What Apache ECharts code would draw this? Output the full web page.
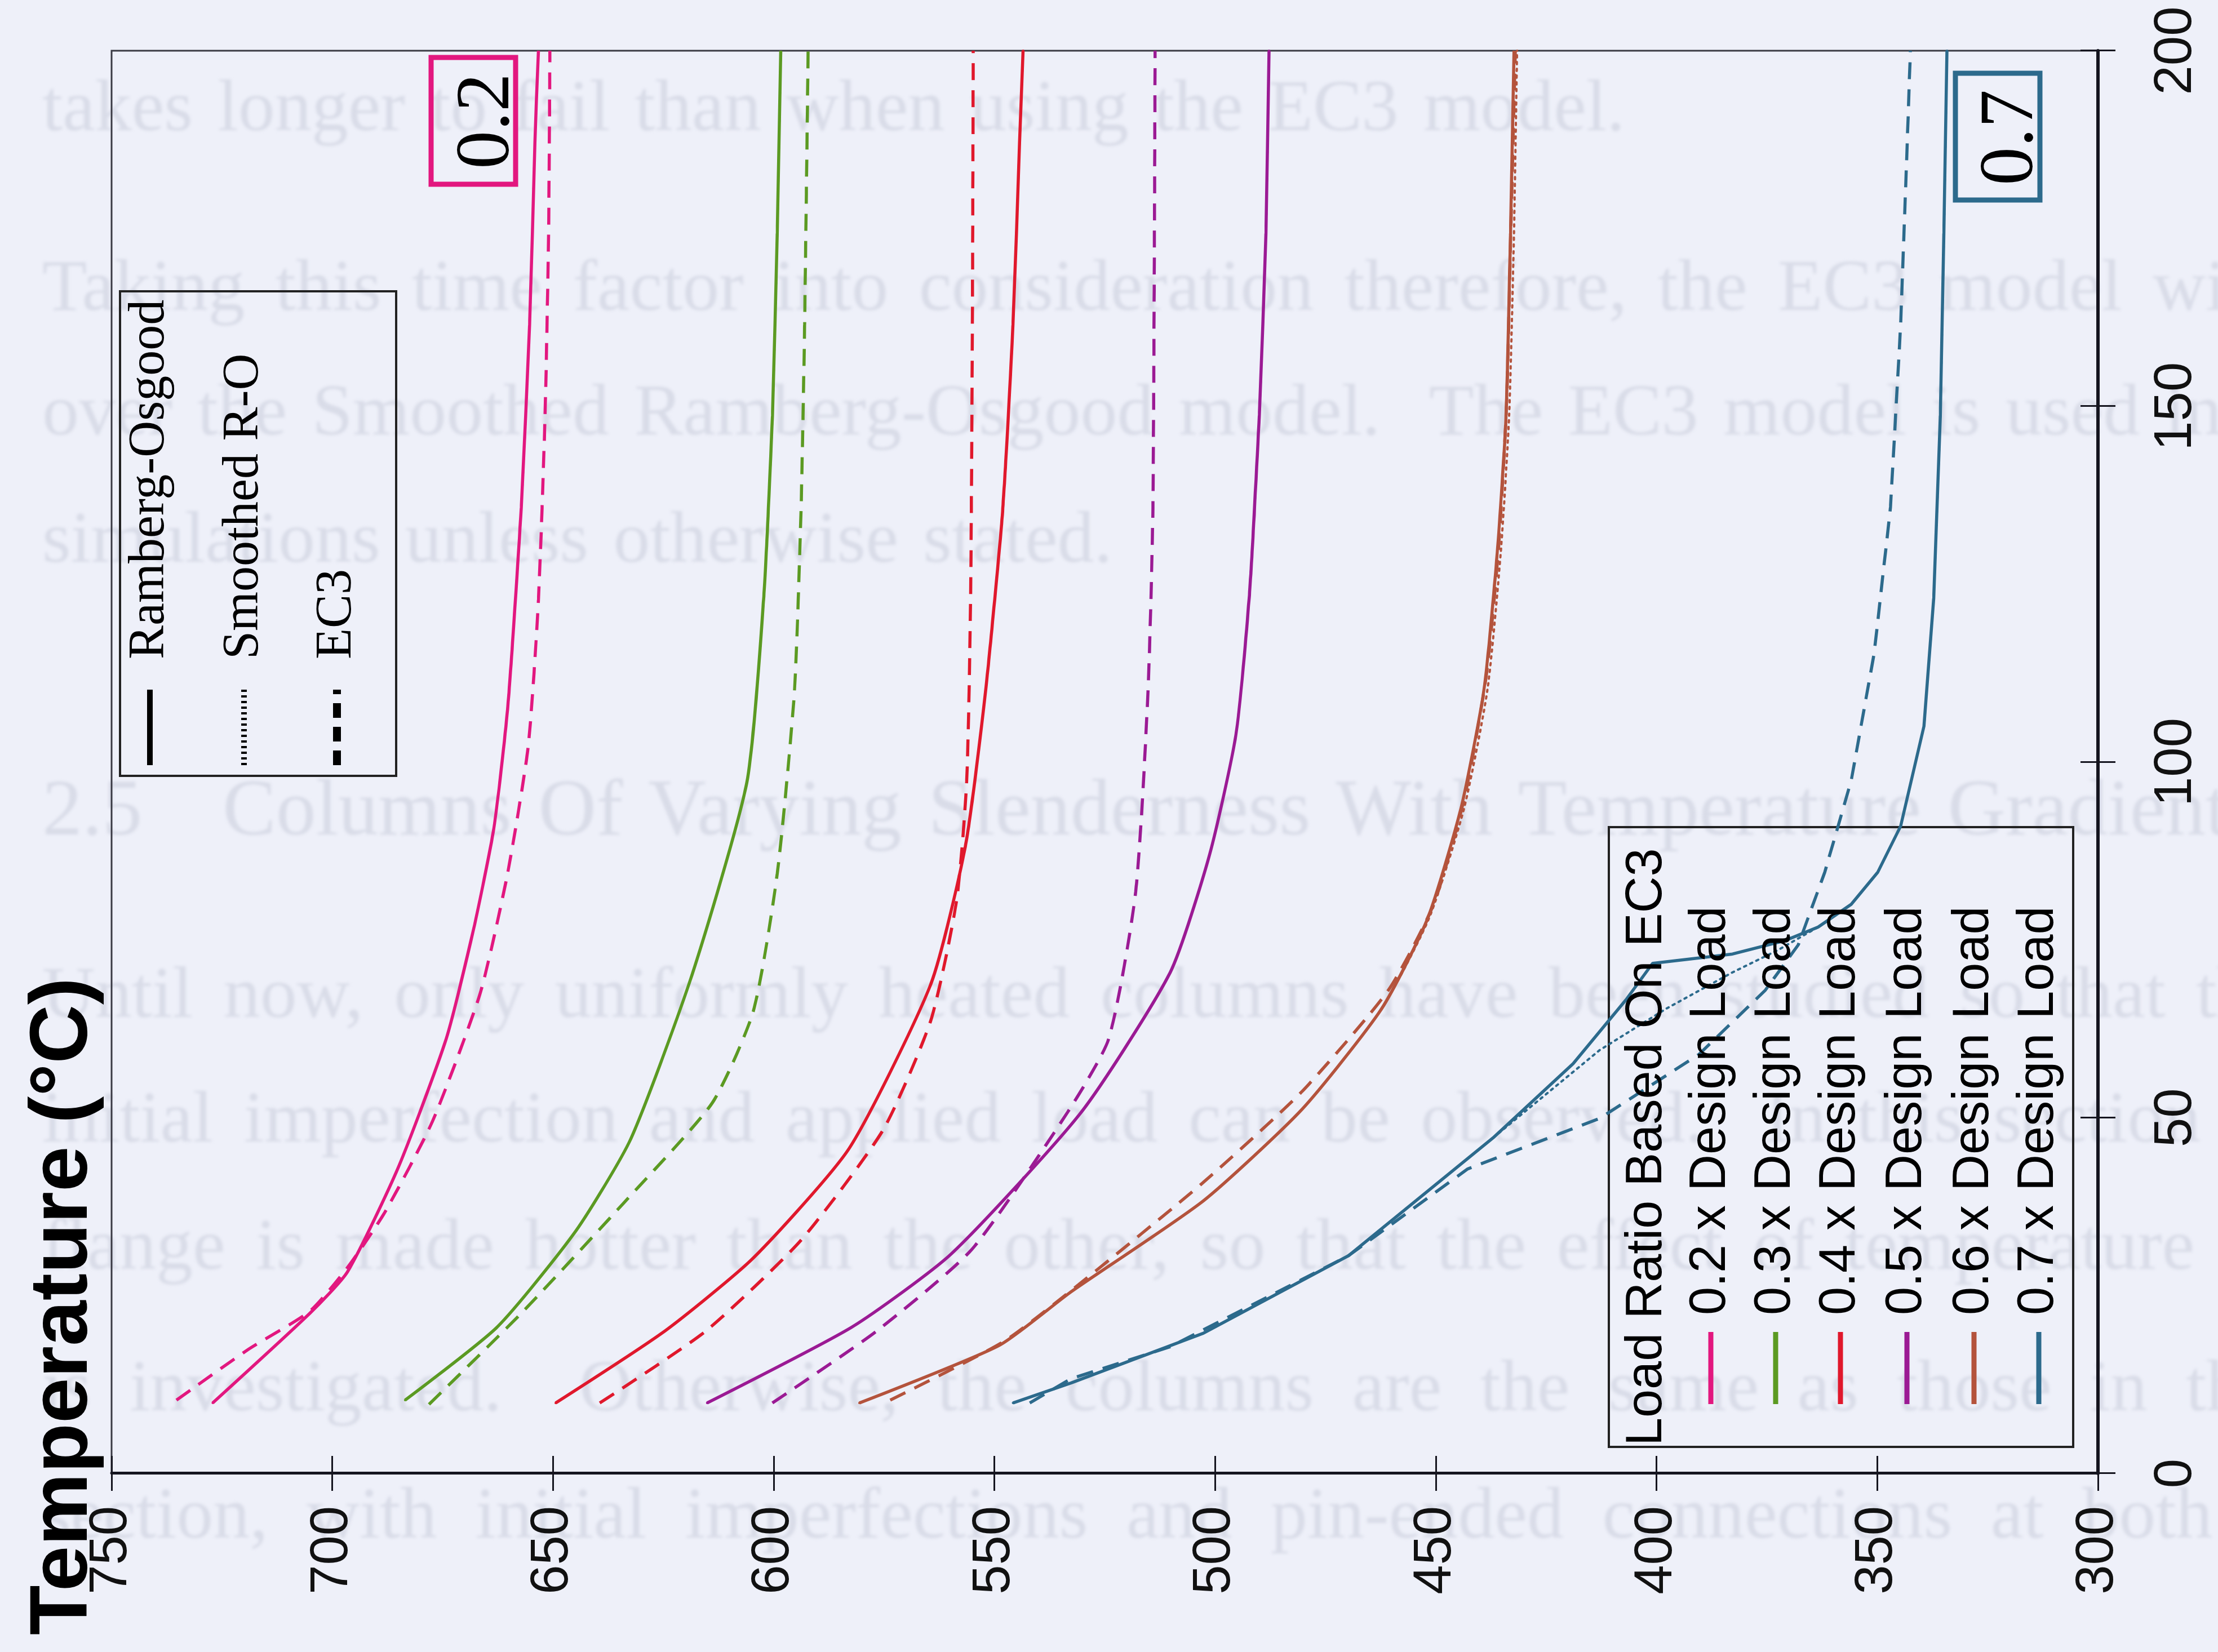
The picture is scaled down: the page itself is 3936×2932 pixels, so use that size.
<!DOCTYPE html>
<html>
<head>
<meta charset="utf-8">
<script src="https://cdn.jsdelivr.net/npm/echarts@6/dist/echarts.min.js"></script>
<style>
html, body { margin:0; padding:0; width:3936px; height:2932px; overflow:hidden; background:#eef0f9; }
#page { position:absolute; left:0; top:0; width:3936px; height:2932px; font-family:"Liberation Serif", serif; color:#d9dce8; filter:blur(2.5px); }
#page div { position:absolute; left:75px; white-space:nowrap; font-size:130px; line-height:130px; word-spacing:12px; }
#chart { position:absolute; left:0; top:0; width:2932px; height:3936px; transform-origin:0 0; transform:translate(0px, 2932px) rotate(-90deg); }
</style>
</head>
<body>
<div id="page">
  <div style="top:122px">takes longer to fail than when using the EC3 model.</div>
  <div style="top:441px;word-spacing:22px">Taking this time factor into consideration therefore, the EC3 model will be used</div>
  <div style="top:662px">over the Smoothed Ramberg-Osgood model.&nbsp; The EC3 model is used in all</div>
  <div style="top:888px">simulations unless otherwise stated.</div>
  <div style="top:1362px;font-size:142px;line-height:142px;">2.5&nbsp;&nbsp;&nbsp;Columns Of Varying Slenderness With Temperature Gradient</div>
  <div style="top:1696px;word-spacing:22px">Until now, only uniformly heated columns have been studied so that the effect of</div>
  <div style="top:1917px;word-spacing:22px">initial imperfection and applied load can be observed.&nbsp; In this section one</div>
  <div style="top:2143px;word-spacing:22px">flange is made hotter than the other, so that the effect of temperature gradient</div>
  <div style="top:2394px;word-spacing:36px">is investigated.&nbsp; Otherwise, the columns are the same as those in the previous</div>
  <div style="top:2620px;word-spacing:36px">section, with initial imperfections and pin-ended connections at both ends.</div>
</div>
<div id="chart"></div>
<script>
// Failure temperature against slenderness for six load ratios.
// Each point is [slenderness, temperature (°C)].
const slenderTicks = [0, 50, 100, 150, 200];
const tempRange = [300, 750];

// 0.2 x design load
const ro02 = [[9.9,727.1],[22.5,705.1],[28.3,696.6],[43.1,685.0],[61.1,674.2],[76.5,668.0],[90.7,663.4],[107.4,660.3],[135.7,657.2],[161.4,655.3],[187.1,654.1],[200,653.3]];
const sm02 = [[9.9,727.1],[22.5,705.1],[28.3,696.6],[43.1,685.0],[61.1,674.2],[76.5,668.0],[90.7,663.4],[107.4,660.3],[135.7,657.2],[161.4,655.3],[187.1,654.1],[200,653.3]];
const ec02 = [[10.3,735.3],[17.4,719.1],[22.8,705.1],[28.9,696.6],[36.7,688.1],[49.5,677.3],[67.5,666.5],[84.3,660.3],[102.3,655.6],[122.8,653.3],[148.6,651.8],[174.3,651.0],[200,650.7]];

// 0.3 x design load
const ro03 = [[10.3,683.5],[20.6,662.6],[34.1,644.8],[47.0,632.4],[70.1,618.5],[97.1,606.1],[122.8,602.3],[148.6,600.3],[174.3,599.2],[200,598.4]];
const sm03 = [[10.3,683.5],[20.6,662.6],[34.1,644.8],[47.0,632.4],[70.1,618.5],[97.1,606.1],[122.8,602.3],[148.6,600.3],[174.3,599.2],[200,598.4]];
const ec03 = [[9.7,678.1],[22.5,657.2],[38.0,634.0],[52.1,613.9],[65.0,604.6],[84.3,599.2],[110.0,595.3],[135.7,593.8],[161.4,593.0],[200,592.2]];

// 0.4 x design load
const ro04 = [[9.9,649.4],[20.0,624.7],[30.3,604.6],[45.7,582.9],[68.8,564.4],[88.1,556.6],[110.0,552.0],[135.7,548.1],[161.4,545.8],[187.1,544.3],[200,543.5]];
const sm04 = [[9.9,649.4],[20.0,624.7],[30.3,604.6],[45.7,582.9],[68.8,564.4],[88.1,556.6],[110.0,552.0],[135.7,548.1],[161.4,545.8],[187.1,544.3],[200,543.5]];
const ec04 = [[9.9,639.4],[20.0,615.4],[32.8,593.8],[48.3,575.2],[63.7,564.4],[80.4,558.6],[97.1,556.3],[122.8,555.4],[161.4,555.0],[200,554.8]];

// 0.5 x design load
const ro05 = [[9.9,615.1],[20.6,582.2],[30.9,559.7],[50.8,530.3],[70.4,510.2],[87.1,501.2],[103.8,495.3],[123.0,492.3],[148.7,490.0],[174.3,488.5],[200,487.8]];
const sm05 = [[9.9,615.1],[20.6,582.2],[30.9,559.7],[50.8,530.3],[70.4,510.2],[87.1,501.2],[103.8,495.3],[123.0,492.3],[148.7,490.0],[174.3,488.5],[200,487.8]];
const ec05 = [[9.9,600.3],[20.0,576.7],[31.5,555.1],[50.8,533.4],[61.1,524.1],[81.7,518.0],[110.0,515.2],[135.7,514.1],[200,513.6]];

// 0.6 x design load
const ro06 = [[9.9,580.6],[18.0,548.9],[25.5,532.7],[38.3,502.7],[51.2,480.3],[65.3,462.3],[78.1,451.8],[93.5,444.3],[110.2,439.1],[129.4,436.1],[148.7,434.1],[174.3,433.1],[200,432.3]];
const sm06 = [[9.9,580.6],[18.0,548.9],[25.5,532.7],[38.3,502.7],[51.2,480.3],[65.3,462.3],[78.1,451.5],[93.5,443.6],[110.2,438.3],[129.4,435.3],[148.7,433.4],[174.3,432.3],[200,431.6]];
const ec06 = [[10.3,573.6],[18.5,548.0],[26.5,531.0],[40.9,502.7],[53.7,480.3],[67.9,460.8],[80.0,450.5],[95.0,443.5],[112.0,438.6],[130.0,435.8],[150.0,434.0],[175.0,433.0],[200,432.0]];

// 0.7 x design load
const ro07 = [[9.9,545.8],[12.7,532.7],[19.7,502.7],[30.6,469.8],[47.3,436.8],[57.6,418.9],[66.6,406.9],[71.7,400.9],[73.0,382.9],[74.9,370.9],[76.8,363.4],[80.0,355.9],[84.5,349.9],[91.0,344.7],[105.1,339.4],[123.0,337.2],[148.7,335.7],[174.3,334.9],[200,334.2]];
const sm07 = [[9.9,545.8],[12.7,532.7],[19.7,502.7],[30.6,469.8],[47.3,436.8],[59.5,412.9],[65.3,397.9],[70.4,382.9],[73.6,372.4],[76.8,363.4],[80.0,355.9],[84.5,349.9],[91.0,344.7],[105.1,339.4],[123.0,337.2],[148.7,335.7],[174.3,334.9],[200,334.2]];
const ec07 = [[9.9,542.0],[13.3,532.7],[17.8,510.2],[30.6,469.8],[42.8,442.8],[49.9,412.9],[58.9,390.4],[67.9,375.4],[74.3,367.9],[84.5,361.9],[97.4,355.9],[115.3,350.7],[135.8,347.0],[161.5,344.7],[187.2,343.2],[200,342.5]];

const loadLabels = ['0.2 x Design Load','0.3 x Design Load','0.4 x Design Load','0.5 x Design Load','0.6 x Design Load','0.7 x Design Load'];
const loadColors = ['#e2177f','#5b9a22','#e0182c','#9b1a94','#b4533c','#2c6a8c'];
const modelNames = ['Ramberg-Osgood','Smoothed R-O','EC3'];

const groups = [
  {ro: ro02, sm: sm02, ec: ec02, bend: 0.2},
  {ro: ro03, sm: sm03, ec: ec03, bend: 0.2},
  {ro: ro04, sm: sm04, ec: ec04, bend: 0.2},
  {ro: ro05, sm: sm05, ec: ec05, bend: 0.2},
  {ro: ro06, sm: sm06, ec: ec06, bend: 0.2},
  {ro: ro07, sm: sm07, ec: ec07, bend: 0}
];

const INK = '#15151f';
const SANS = '"Liberation Sans", Arial, sans-serif';
const SERIF = '"Liberation Serif", "Times New Roman", serif';

const series = [];
groups.forEach((g, i) => {
  const c = loadColors[i];
  const base = {type: 'line', symbol: 'none', silent: true, animation: false, smooth: g.bend, xAxisIndex: 0, yAxisIndex: 0};
  series.push(Object.assign({}, base, {name: loadLabels[i] + ' ' + modelNames[1], data: g.sm, z: 3,
    lineStyle: {color: c, width: 4, type: [4, 8], cap: 'round'}}));
  series.push(Object.assign({}, base, {name: loadLabels[i] + ' ' + modelNames[2], data: g.ec, z: 4,
    lineStyle: {color: c, width: 5.5, type: [30, 18]}}));
  series.push(Object.assign({}, base, {name: loadLabels[i] + ' ' + modelNames[0], data: g.ro, z: 5,
    lineStyle: {color: c, width: 5.5}}));
});

// graphic layer: axis title, model legend, load legend, and the two range tags
const graphic = [];
graphic.push({type: 'text', x: 30, y: 114, z: 10,
  style: {text: 'Temperature (°C)', font: 'bold 145px ' + SANS, fill: '#000', textAlign: 'left', textVerticalAlign: 'middle'}});

// model legend
graphic.push({type: 'rect', z: 1, shape: {x: 1555, y: 213, width: 860, height: 490},
  style: {fill: 'none', stroke: '#222', lineWidth: 4}});
const modelRowsV = [266, 433, 598];
const modelDash = [null, [4, 6], [26, 16]];
modelNames.forEach((n, k) => {
  graphic.push({type: 'line', z: 10, shape: {x1: 1574, y1: modelRowsV[k], x2: 1708, y2: modelRowsV[k]},
    style: {stroke: '#000', lineWidth: k === 2 ? 14 : 10, lineDash: modelDash[k]}});
  graphic.push({type: 'text', x: 1762, y: modelRowsV[k], z: 10,
    style: {text: n, font: '90px ' + SERIF, fill: '#000', textAlign: 'left', textVerticalAlign: 'middle'}});
});

// load ratio legend
graphic.push({type: 'rect', z: 1, shape: {x: 364, y: 2855, width: 1100, height: 824},
  style: {fill: 'none', stroke: '#222', lineWidth: 4}});
graphic.push({type: 'text', x: 366, y: 2923, z: 10,
  style: {text: 'Load Ratio Based On EC3', font: '90px ' + SANS, fill: '#000', textAlign: 'left', textVerticalAlign: 'middle'}});
const loadRowsV = [3036, 3151, 3266, 3384, 3503, 3618];
loadLabels.forEach((lab, k) => {
  graphic.push({type: 'line', z: 10, shape: {x1: 440, y1: loadRowsV[k], x2: 568, y2: loadRowsV[k]},
    style: {stroke: loadColors[k], lineWidth: 9}});
  graphic.push({type: 'text', x: 598, y: loadRowsV[k], z: 10,
    style: {text: lab, font: '90px ' + SANS, fill: '#000', textAlign: 'left', textVerticalAlign: 'middle'}});
});

// range tags
graphic.push({type: 'rect', z: 10, shape: {x: 2605, y: 765, width: 225, height: 150},
  style: {fill: 'none', stroke: loadColors[0], lineWidth: 9}});
graphic.push({type: 'text', x: 2717, y: 866, z: 10,
  style: {text: '0.2', font: '136px ' + SERIF, fill: '#000', textAlign: 'center', textVerticalAlign: 'middle'}});
graphic.push({type: 'rect', z: 10, shape: {x: 2577, y: 3470, width: 225, height: 150},
  style: {fill: 'none', stroke: loadColors[5], lineWidth: 9}});
graphic.push({type: 'text', x: 2688, y: 3570, z: 10,
  style: {text: '0.7', font: '136px ' + SERIF, fill: '#000', textAlign: 'center', textVerticalAlign: 'middle'}});

function valueAxis(min, max, interval, position, withLabels, labelMargin, lineWidth) {
  return {
    type: 'value', min: min, max: max, interval: interval, position: position,
    axisLine: {show: withLabels, onZero: false, lineStyle: {color: INK, width: lineWidth}},
    axisTick: {show: true, inside: !withLabels, length: 31, lineStyle: {color: INK, width: 3}},
    axisLabel: {show: withLabels, margin: labelMargin, fontSize: 94, fontFamily: SANS, color: '#111'},
    splitLine: {show: false}
  };
}

const chart = echarts.init(document.getElementById('chart'), null, {renderer: 'canvas', width: 2932, height: 3936});
chart.setOption({
  backgroundColor: 'transparent',
  animation: false,
  grid: {left: 317, right: 90, top: 198, bottom: 213, show: true, borderColor: '#3a3a44', borderWidth: 3, containLabel: false},
  xAxis: [
    valueAxis(slenderTicks[0], slenderTicks[slenderTicks.length - 1], 50, 'bottom', true, 92, 6),
    valueAxis(slenderTicks[0], slenderTicks[slenderTicks.length - 1], 50, 'bottom', false, 0, 6)
  ],
  yAxis: [
    valueAxis(tempRange[0], tempRange[1], 50, 'left', true, 58, 5),
    valueAxis(tempRange[0], tempRange[1], 50, 'left', false, 0, 5)
  ],
  series: series,
  graphic: graphic
});
</script>
</body>
</html>
